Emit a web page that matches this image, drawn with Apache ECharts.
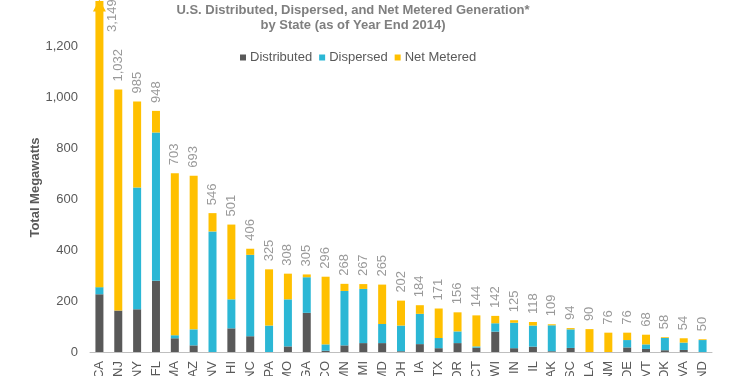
<!DOCTYPE html>
<html>
<head>
<meta charset="utf-8">
<script src="https://cdn.jsdelivr.net/npm/echarts@6/dist/echarts.min.js"></script>
<style>
  html, body { margin: 0; padding: 0; background: #fff; }
  #chart { width: 740px; height: 376px; }
</style>
</head>
<body>
<div id="chart"></div>
<script>
// values (megawatts)
const states = ['CA', 'NJ', 'NY', 'FL', 'MA', 'AZ', 'NV', 'HI', 'NC', 'PA', 'MO', 'GA', 'CO', 'MN', 'MI', 'MD',
  'OH', 'IA', 'TX', 'OR', 'CT', 'WI', 'IN', 'IL', 'AK', 'SC', 'LA', 'NM', 'DE', 'VT', 'OK', 'VA', 'ND'];
const totals = [3149, 1032, 985, 948, 703, 693, 546, 501, 406, 325, 308, 305, 296, 268, 267, 265,
  202, 184, 171, 156, 144, 142, 125, 118, 109, 94, 90, 76, 76, 68, 58, 54, 50];
const distributed = [227, 163, 168, 280, 54, 26, 0, 93, 62, 0, 22, 154, 5, 26, 35, 35,
  3, 31, 15, 35, 17, 80, 15, 21, 3, 16, 0, 0, 18, 12, 7, 8, 0];
const dispersed = [28, 0, 479, 583, 12, 63, 474, 114, 320, 104, 185, 140, 25, 214, 213, 75,
  101, 119, 40, 46, 5, 33, 100, 83, 102, 73, 0, 0, 29, 18, 48, 29, 47];
const netMetered = [2894, 869, 338, 85, 637, 604, 72, 294, 24, 221, 101, 11, 266, 28, 19, 155,
  98, 34, 116, 75, 122, 29, 10, 14, 4, 5, 90, 76, 29, 38, 3, 17, 3];

const yMax = 1380;      // CA runs off the top, shown with an arrow
const labelCap = 1227;  // where the CA total label sits
const arrowTip = 1362;

const chart = echarts.init(document.getElementById('chart'));

const fmt = v => v.toLocaleString('en-US');

chart.setOption({
  animation: false,
  textStyle: { fontFamily: 'Liberation Sans, Arial, sans-serif' },
  title: {
    text: 'U.S. Distributed, Dispersed, and Net Metered Generation*\nby State (as of Year End 2014)',
    left: 353,
    top: 3,
    padding: 0,
    textAlign: 'center',
    textStyle: { fontSize: 13, fontWeight: 'bold', color: '#7f7f7f', lineHeight: 15 }
  },
  legend: {
    data: ['Distributed', 'Dispersed', 'Net Metered'],
    left: 240,
    top: 51,
    padding: 0,
    icon: 'rect',
    itemWidth: 6,
    itemHeight: 6,
    itemGap: 7,
    textStyle: { fontSize: 13, color: '#595959', padding: [0, 0, 0, -1] }
  },
  grid: { left: 90, right: 28, top: 1, bottom: 24, outerBoundsMode: 'none' },
  xAxis: {
    type: 'category',
    data: states,
    axisLine: { lineStyle: { color: '#bfbfbf' } },
    axisTick: { show: false },
    axisLabel: { rotate: 90, fontSize: 13, color: '#595959', margin: 9, interval: 0 }
  },
  yAxis: {
    type: 'value',
    min: 0,
    max: yMax,
    interval: 200,
    name: 'Total Megawatts',
    nameLocation: 'middle',
    nameGap: 48,
    nameMoveOverlap: false,
    nameTextStyle: { fontSize: 13, fontWeight: 'bold', color: '#595959', padding: [0, 0, 0, -22] },
    splitLine: { show: false },
    axisLine: { show: false },
    axisTick: { show: false },
    axisLabel: {
      fontSize: 13, color: '#595959', margin: 12, showMaxLabel: false,
      formatter: v => fmt(v)
    }
  },
  series: [
    {
      name: 'Distributed', type: 'bar', stack: 'total', barWidth: 8,
      itemStyle: { color: '#595959' }, data: distributed
    },
    {
      name: 'Dispersed', type: 'bar', stack: 'total',
      itemStyle: { color: '#2bb7d5' }, data: dispersed
    },
    {
      name: 'Net Metered', type: 'bar', stack: 'total',
      itemStyle: { color: '#ffc000' }, data: netMetered,
      markPoint: {
        silent: true,
        symbol: 'triangle',
        symbolSize: [13, 12],
        itemStyle: { color: '#ffc000' },
        label: { show: false },
        data: [{ coord: [states[0], arrowTip] }]
      }
    },
    {
      name: 'labels', type: 'scatter', symbolSize: 0, silent: true, z: 5,
      data: totals.map((v, i) => ({
        value: Math.min(v, labelCap),
        label: v > labelCap ? { offset: [0, 13] } : undefined
      })),
      label: {
        show: true,
        position: 'top',
        distance: 8,
        rotate: 90,
        align: 'left',
        verticalAlign: 'middle',
        fontSize: 13,
        color: '#7f7f7f',
        formatter: p => fmt(totals[p.dataIndex])
      }
    }
  ]
});
</script>
</body>
</html>
